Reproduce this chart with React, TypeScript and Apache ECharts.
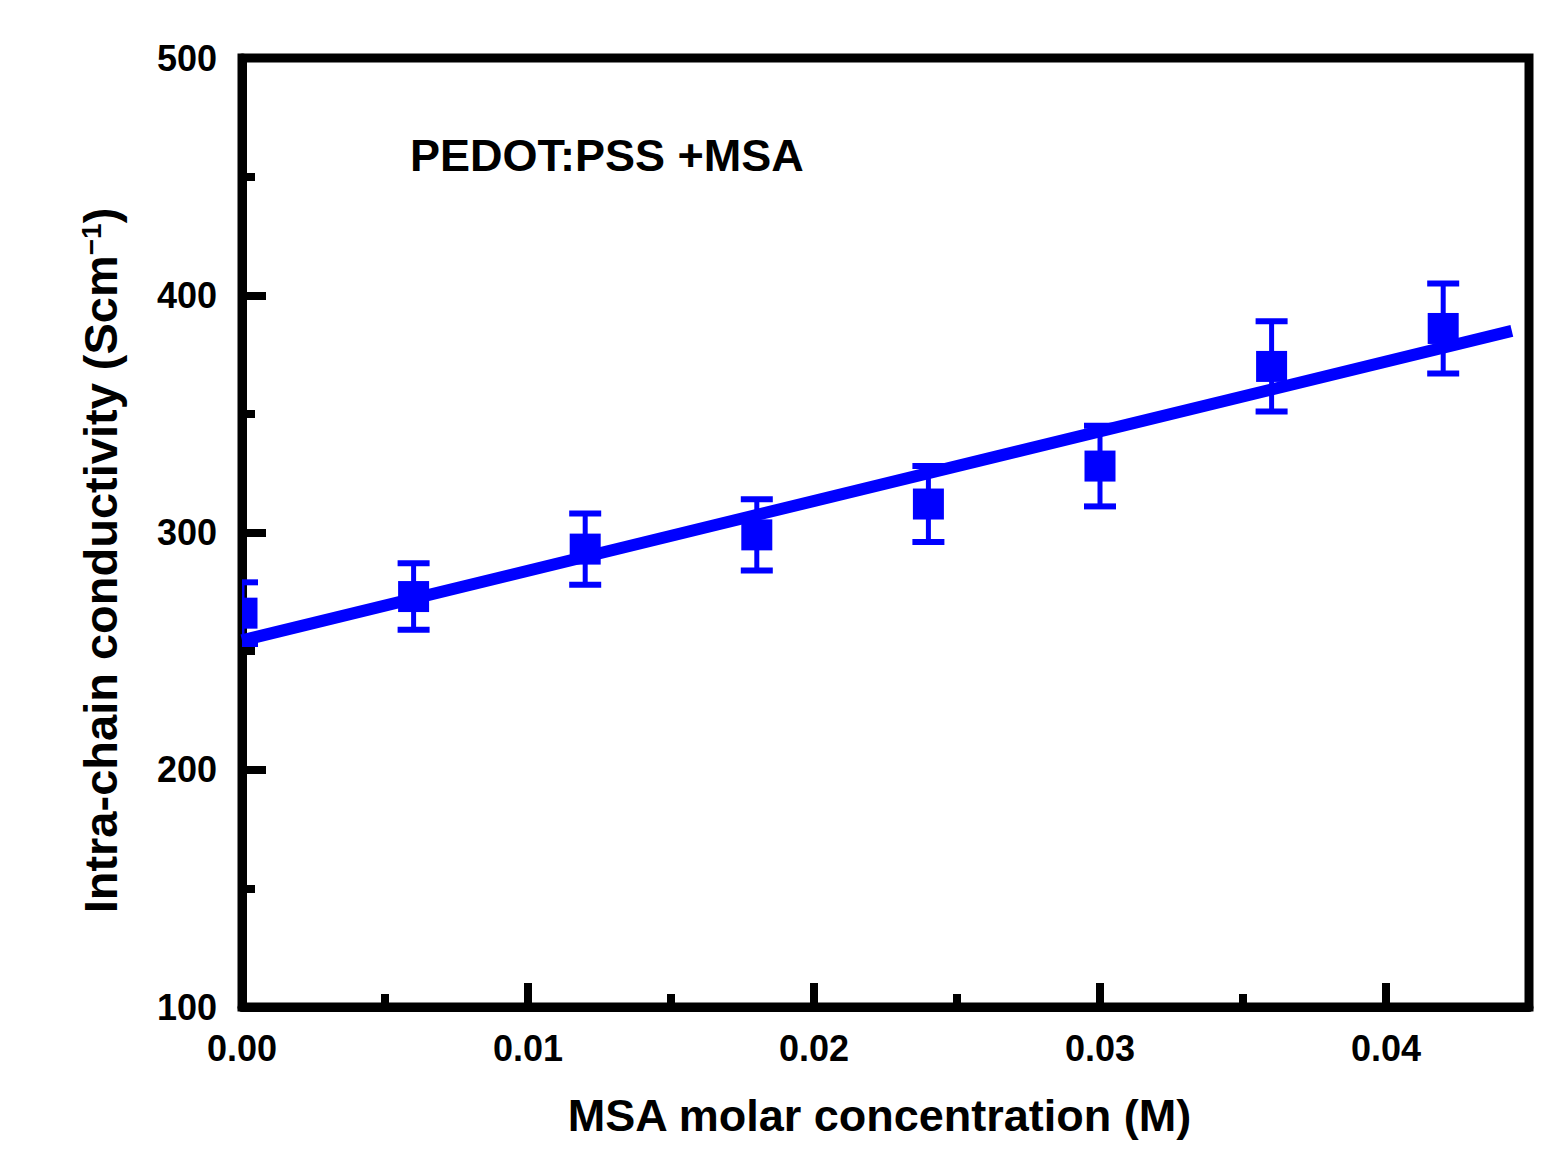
import { useEffect, useRef } from "react";
import * as echarts from "echarts";

const FONT = '"Liberation Sans", Arial, sans-serif';
const BLUE = "#0000ff";

// MSA molar concentration (M)
const concentration = [0, 0.006, 0.012, 0.018, 0.024, 0.03, 0.036, 0.042];
// intra-chain conductivity (S/cm)
const conductivity = [266, 273, 293, 299, 312, 328, 370, 386];
const errorBar = [13, 14, 15, 15, 16, 17, 19, 19];

// linear fit end points
const fitX = [0, 0.0444];
const fitY = [254.5, 385];

const App: React.FC = () => {
  const chartRef = useRef<HTMLDivElement>(null);

  useEffect(() => {
    if (!chartRef.current) return;
    const chart = echarts.init(chartRef.current, undefined, { renderer: "svg" });

    const points = concentration.map((x, i) => [x, conductivity[i], errorBar[i]]);
    const fit = fitX.map((x, i) => [x, fitY[i]]);

    const option = {
      animation: false,
      backgroundColor: "#ffffff",
      grid: {
        left: 242,
        right: 35,
        top: 58,
        bottom: 153,
        show: true,
        borderColor: "#000",
        borderWidth: 9,
      },
      xAxis: [
        {
          type: "value",
          min: 0,
          max: 0.045,
          interval: 0.01,
          splitLine: { show: false },
          axisLine: { show: true, lineStyle: { color: "#000", width: 9 } },
          axisTick: { show: true, inside: true, length: 24, lineStyle: { color: "#000", width: 8 } },
          axisLabel: {
            margin: 23,
            color: "#000",
            fontSize: 36,
            fontWeight: "bold",
            fontFamily: FONT,
            showMaxLabel: false,
            formatter: (v: number) => v.toFixed(2),
          },
          name: "MSA molar concentration (M)",
          nameLocation: "middle",
          nameGap: 86,
          nameTextStyle: {
            color: "#000",
            fontSize: 45,
            fontWeight: "bold",
            fontFamily: FONT,
            padding: [0, 12, 0, 0],
          },
        },
        {
          type: "value",
          position: "bottom",
          min: 0,
          max: 0.045,
          interval: 0.005,
          splitLine: { show: false },
          axisLine: { show: false },
          axisLabel: { show: false },
          axisTick: { show: true, inside: true, length: 13, lineStyle: { color: "#000", width: 8 } },
        },
      ],
      yAxis: {
        type: "value",
        min: 100,
        max: 500,
        interval: 100,
        splitLine: { show: false },
        axisLine: { show: true, lineStyle: { color: "#000", width: 9 } },
        axisTick: { show: true, inside: true, length: 24, lineStyle: { color: "#000", width: 8 } },
        minorTick: { show: true, splitNumber: 2, length: 13, lineStyle: { color: "#000", width: 8 } },
        axisLabel: {
          margin: 25,
          color: "#000",
          fontSize: 36,
          fontWeight: "bold",
          fontFamily: FONT,
          padding: [0, 0, 14, 0],
        },
        name: "{a|Intra-chain conductivity (Scm}{b|−1}{a|)}",
        nameLocation: "middle",
        nameGap: 118,
        nameTextStyle: {
          padding: [0, 56, 0, 0],
          rich: {
            a: { color: "#000", fontSize: 47, fontWeight: "bold", fontFamily: FONT },
            b: { color: "#000", fontSize: 28, fontWeight: "bold", fontFamily: FONT, verticalAlign: "top" },
          },
        },
      },
      graphic: [
        {
          type: "text",
          x: 410,
          y: 155,
          style: {
            text: "PEDOT:PSS +MSA",
            font: `bold 45px ${FONT}`,
            fill: "#000",
            verticalAlign: "middle",
          },
        },
      ],
      series: [
        {
          type: "custom",
          xAxisIndex: 0,
          clip: true,
          data: points,
          renderItem: (params: any, api: any) => {
            const x = api.value(0);
            const y = api.value(1);
            const e = api.value(2);
            const c = api.coord([x, y]);
            const hi = api.coord([x, y + e]);
            const lo = api.coord([x, y - e]);
            const cap = 16;
            const half = 15.5;
            return {
              type: "group",
              children: [
                { type: "line", shape: { x1: c[0], y1: hi[1], x2: c[0], y2: lo[1] }, style: { stroke: BLUE, lineWidth: 5 } },
                { type: "line", shape: { x1: c[0] - cap, y1: hi[1], x2: c[0] + cap, y2: hi[1] }, style: { stroke: BLUE, lineWidth: 6 } },
                { type: "line", shape: { x1: c[0] - cap, y1: lo[1], x2: c[0] + cap, y2: lo[1] }, style: { stroke: BLUE, lineWidth: 6 } },
                { type: "rect", shape: { x: c[0] - half, y: c[1] - half, width: half * 2, height: half * 2 }, style: { fill: BLUE } },
              ],
            };
          },
          z: 3,
        },
        {
          type: "line",
          xAxisIndex: 0,
          data: fit,
          showSymbol: false,
          clip: true,
          lineStyle: { color: BLUE, width: 12 },
          z: 4,
        },
      ],
    };

    chart.setOption(option);
    return () => {
      chart.dispose();
    };
  }, []);

  return (
    <div
      ref={chartRef}
      style={{ position: "absolute", left: 0, top: 0, width: "1564px", height: "1160px" }}
    />
  );
};

export default App;
